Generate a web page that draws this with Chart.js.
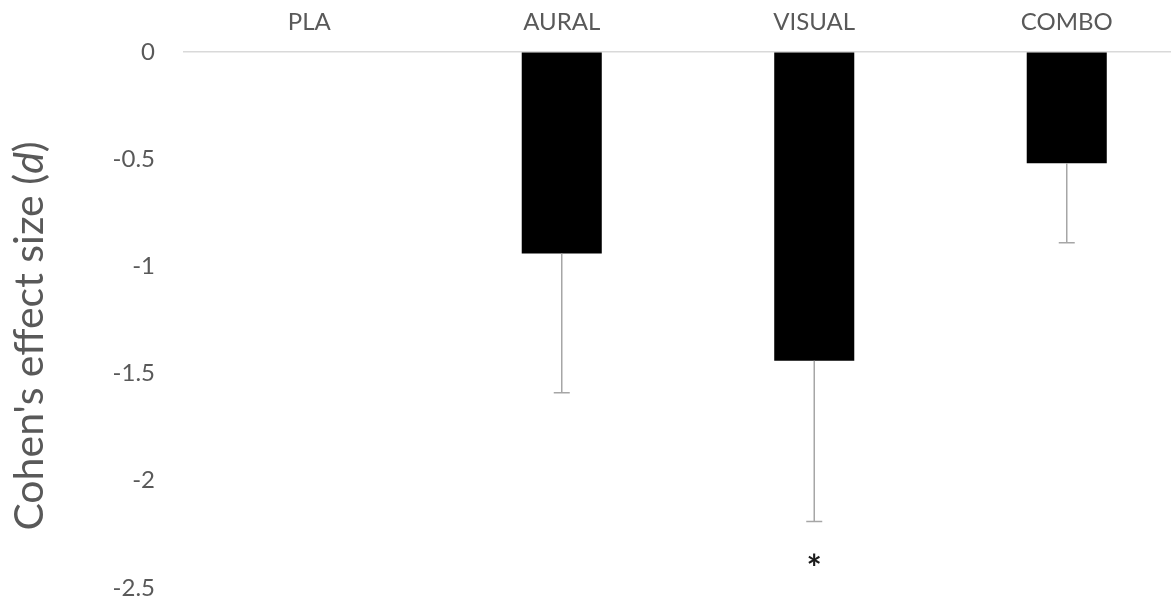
<!DOCTYPE html>
<html>
<head>
<meta charset="utf-8">
<script src="https://cdn.jsdelivr.net/npm/chart.js@4.4.1/dist/chart.umd.min.js"></script>
<style>
  html, body { margin: 0; padding: 0; background: #fff; overflow: hidden; }
  #wrap { width: 1193px; height: 601px; position: relative; }
</style>
</head>
<body>
<div id="wrap"><canvas id="effectChart"></canvas></div>
<script>
// Data
const groups = ['PLA', 'AURAL', 'VISUAL', 'COMBO'];
const effectSize = [0, -0.94, -1.44, -0.52];
const errorLow = [0, -1.59, -2.19, -0.89];
const significance = ['', '', '*', ''];
const yTicks = [0, -0.5, -1, -1.5, -2, -2.5];

const grey = '#595959';
const fontFamily = 'Lato, "Open Sans", sans-serif';

// Error bars (downward only) and significance marks
const errorBarPlugin = {
    id: 'errorBars',
    afterDatasetsDraw(chart) {
        const ctx = chart.ctx;
        const x = chart.scales.x;
        const y = chart.scales.y;
        ctx.save();
        ctx.strokeStyle = '#a6a6a6';
        ctx.lineWidth = 1.5;
        groups.forEach((g, i) => {
            if (errorLow[i] === effectSize[i]) return;
            const cx = x.getPixelForValue(i);
            const top = y.getPixelForValue(effectSize[i]);
            const bottom = y.getPixelForValue(errorLow[i]);
            ctx.beginPath();
            ctx.moveTo(cx, top);
            ctx.lineTo(cx, bottom);
            ctx.moveTo(cx - 8, bottom);
            ctx.lineTo(cx + 8, bottom);
            ctx.stroke();
            if (significance[i]) {
                ctx.fillStyle = '#1a1a1a';
                ctx.font = 'bold 36px ' + fontFamily;
                ctx.textAlign = 'center';
                ctx.textBaseline = 'middle';
                ctx.fillText(significance[i], cx, bottom + 48);
            }
        });
        ctx.restore();
    }
};

// Y-axis title with italic "d"
const yTitlePlugin = {
    id: 'yTitle',
    afterDraw(chart) {
        const ctx = chart.ctx;
        const area = chart.chartArea;
        const parts = [
            { text: "Cohen's effect size (", style: '' },
            { text: 'd', style: 'italic ' },
            { text: ')', style: '' }
        ];
        const size = 41;
        ctx.save();
        let total = 0;
        parts.forEach(p => {
            ctx.font = p.style + size + 'px ' + fontFamily;
            p.w = ctx.measureText(p.text).width;
            total += p.w;
        });
        ctx.translate(30, (area.top + area.bottom) / 2 + 16);
        ctx.rotate(-Math.PI / 2);
        ctx.fillStyle = grey;
        ctx.textBaseline = 'middle';
        ctx.textAlign = 'left';
        let pos = -total / 2;
        parts.forEach(p => {
            ctx.font = p.style + size + 'px ' + fontFamily;
            ctx.fillText(p.text, pos, 0);
            pos += p.w;
        });
        ctx.restore();
    }
};

new Chart(document.getElementById('effectChart'), {
    type: 'bar',
    data: {
        labels: groups,
        datasets: [{
            data: effectSize,
            backgroundColor: '#000000',
            borderWidth: 0,
            categoryPercentage: 1,
            barPercentage: 0.317
        }]
    },
    options: {
        responsive: true,
        maintainAspectRatio: false,
        animation: false,
        layout: { padding: { top: -7, bottom: 13, left: 0, right: 0 } },
        plugins: {
            legend: { display: false },
            tooltip: { enabled: false }
        },
        scales: {
            x: {
                position: 'top',
                grid: { display: false, drawTicks: false },
                border: { display: false },
                ticks: {
                    color: grey,
                    padding: 15,
                    font: { family: fontFamily, size: 24 }
                }
            },
            y: {
                min: -2.5,
                max: 0,
                afterFit(scale) {
                    scale.width = 183;
                    scale.paddingTop = 0;
                    scale.paddingBottom = 0;
                },
                afterBuildTicks(scale) {
                    scale.ticks = yTicks.map(v => ({ value: v }));
                },
                grid: {
                    drawTicks: false,
                    lineWidth: 1.5,
                    color: ctx => (ctx.tick && ctx.tick.value === 0 ? '#d9d9d9' : 'rgba(0,0,0,0)')
                },
                border: { display: false },
                ticks: {
                    color: grey,
                    padding: 28,
                    font: { family: fontFamily, size: 24 },
                    callback: v => String(v)
                }
            }
        }
    },
    plugins: [errorBarPlugin, yTitlePlugin]
});
</script>
</body>
</html>
